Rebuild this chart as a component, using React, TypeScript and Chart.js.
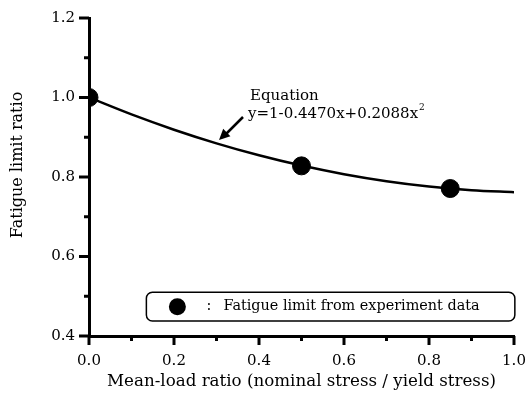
import React, { useEffect, useRef } from "react";
import { Chart, registerables } from "chart.js";

Chart.register(...registerables);

const curveX = [0, 0.1, 0.2, 0.3, 0.4, 0.5, 0.6, 0.7, 0.8, 0.9, 1.0];
const curveY = [1.0, 0.9574, 0.919, 0.8847, 0.8546, 0.8287, 0.807, 0.7894, 0.776, 0.7668, 0.7618];
const expX = [0, 0.5, 0.85];
const expY = [1.0, 0.828, 0.771];
const xTitle = "Mean-load ratio (nominal stress / yield stress)";
const yTitle = "Fatigue limit ratio";
const legendText = "Fatigue limit from experiment data";
const eqTitle = "Equation";
const eqText = "y=1-0.4470x+0.2088x";

const FONT = "'DejaVu Serif', 'Liberation Serif', serif";

const decor = {
  id: "decor",
  afterDraw(chart: any) {
    const ctx = chart.ctx as CanvasRenderingContext2D;
    const xs = chart.scales.x;
    const ys = chart.scales.y;
    const a = chart.chartArea;
    ctx.save();
    ctx.strokeStyle = "#000";
    ctx.fillStyle = "#000";
    // ticks
    for (let i = 0; i <= 10; i++) {
      const v = i / 10;
      const px = xs.getPixelForValue(v);
      const len = i % 2 === 0 ? 9 : 5;
      ctx.lineWidth = 3;
      ctx.beginPath();
      ctx.moveTo(px, a.bottom);
      ctx.lineTo(px, a.bottom + len);
      ctx.stroke();
    }
    for (let i = 4; i <= 12; i++) {
      const v = i / 10;
      const py = ys.getPixelForValue(v);
      const len = i % 2 === 0 ? 10 : 5;
      ctx.lineWidth = 3;
      ctx.beginPath();
      ctx.moveTo(a.left, py);
      ctx.lineTo(a.left - len, py);
      ctx.stroke();
    }
    // y title
    ctx.save();
    ctx.translate(18, 165);
    ctx.rotate(-Math.PI / 2);
    ctx.font = "16px " + FONT;
    ctx.textAlign = "center";
    ctx.textBaseline = "middle";
    ctx.fillText(yTitle, 0, 0);
    ctx.restore();
    // legend box
    const bx0 = xs.getPixelForValue(0.135);
    const bx1 = xs.getPixelForValue(1.002);
    const by0 = ys.getPixelForValue(0.51);
    const by1 = ys.getPixelForValue(0.4376);
    const r = 6;
    ctx.lineWidth = 1.5;
    ctx.beginPath();
    ctx.moveTo(bx0 + r, by0);
    ctx.lineTo(bx1 - r, by0);
    ctx.arcTo(bx1, by0, bx1, by0 + r, r);
    ctx.lineTo(bx1, by1 - r);
    ctx.arcTo(bx1, by1, bx1 - r, by1, r);
    ctx.lineTo(bx0 + r, by1);
    ctx.arcTo(bx0, by1, bx0, by1 - r, r);
    ctx.lineTo(bx0, by0 + r);
    ctx.arcTo(bx0, by0, bx0 + r, by0, r);
    ctx.closePath();
    ctx.fillStyle = "#fff";
    ctx.fill();
    ctx.stroke();
    ctx.fillStyle = "#000";
    const my = (by0 + by1) / 2;
    ctx.beginPath();
    ctx.arc(bx0 + 31, my, 8.5, 0, Math.PI * 2);
    ctx.fill();
    ctx.font = "14.4px " + FONT;
    ctx.textBaseline = "middle";
    ctx.textAlign = "left";
    ctx.fillText(":", bx0 + 60, my);
    ctx.fillText(legendText, bx0 + 77, my);
    // equation annotation
    ctx.font = "15px " + FONT;
    ctx.fillText(eqTitle, 250, 96);
    ctx.fillText(eqText, 248, 114);
    const w = ctx.measureText(eqText).width;
    ctx.font = "9px " + FONT;
    ctx.fillText("2", 248 + w + 1, 108);
    // arrow
    const tx = 243, ty = 117, hx = 219, hy = 140;
    ctx.lineWidth = 2.5;
    ctx.beginPath();
    ctx.moveTo(tx, ty);
    ctx.lineTo(hx + 6, hy - 5);
    ctx.stroke();
    const ang = Math.atan2(hy - ty, hx - tx);
    ctx.beginPath();
    ctx.moveTo(hx, hy);
    ctx.lineTo(hx - 12 * Math.cos(ang - 0.45), hy - 12 * Math.sin(ang - 0.45));
    ctx.lineTo(hx - 12 * Math.cos(ang + 0.45), hy - 12 * Math.sin(ang + 0.45));
    ctx.closePath();
    ctx.fill();
    ctx.restore();
  },
};

export default function App() {
  const ref = useRef<HTMLCanvasElement>(null);
  useEffect(() => {
    document.body.style.margin = "0";
    const chart = new Chart(ref.current!, {
      type: "scatter",
      data: {
        datasets: [
          {
            type: "line",
            data: curveX.map((x, i) => ({ x, y: curveY[i] })),
            borderColor: "#000",
            borderWidth: 2.5,
            pointRadius: 0,
            cubicInterpolationMode: "monotone",
            fill: false,
          } as any,
          {
            data: expX.map((x, i) => ({ x, y: expY[i] })),
            backgroundColor: "#000",
            borderColor: "#000",
            pointRadius: 9,
            pointHoverRadius: 9,
          },
        ],
      },
      plugins: [decor],
      options: {
        animation: false,
        responsive: false,
        events: [],
        layout: { padding: { top: 18, right: 13, left: 0, bottom: 0 } },
        plugins: { legend: { display: false }, tooltip: { enabled: false } },
        scales: {
          x: {
            type: "linear",
            min: 0,
            max: 1,
            border: { color: "#000", width: 3 },
            grid: { display: false, drawTicks: false },
            ticks: {
              stepSize: 0.1,
              padding: 16,
              color: "#000",
              font: { family: FONT, size: 15 },
              callback: (v: any) => (Math.round(v * 10) % 2 === 0 ? Number(v).toFixed(1) : ""),
            },
            title: {
              display: true,
              text: xTitle,
              color: "#000",
              font: { family: FONT, size: 16.7 },
              padding: { top: 3 },
            },
            afterFit: (s: any) => {
              s.height = 60;
              s.paddingLeft = 0;
              s.paddingRight = 0;
            },
          },
          y: {
            min: 0.4,
            max: 1.2,
            border: { color: "#000", width: 3 },
            grid: { display: false, drawTicks: false },
            ticks: {
              stepSize: 0.1,
              padding: 14,
              color: "#000",
              font: { family: FONT, size: 15 },
              callback: (v: any) => (Math.round(v * 10) % 2 === 0 ? Number(v).toFixed(1) : ""),
            },
            title: { display: false },
            afterFit: (s: any) => {
              s.width = 89;
              s.paddingTop = 0;
              s.paddingBottom = 0;
            },
          },
        },
      },
    });
    return () => chart.destroy();
  }, []);
  return (
    <div style={{ width: 527, height: 396, background: "#fff" }}>
      <canvas ref={ref} width={527} height={396} />
    </div>
  );
}
